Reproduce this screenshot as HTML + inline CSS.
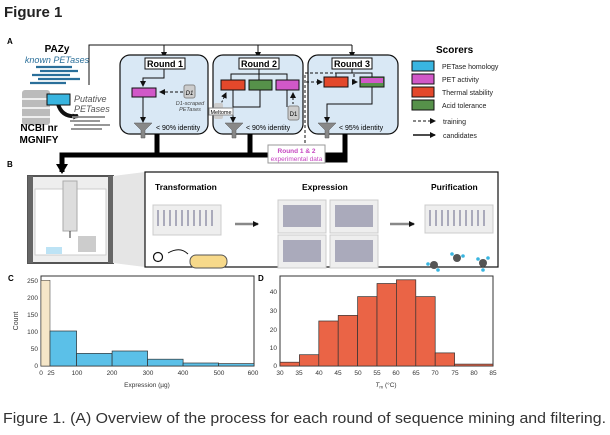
<!DOCTYPE html>
<html><head><meta charset="utf-8"><style>
body{margin:0;background:#fff}
svg{display:block;font-family:"Liberation Sans",sans-serif}
</style></head><body>
<svg width="610" height="435" viewBox="0 0 610 435" xmlns="http://www.w3.org/2000/svg">
<defs>
<marker id="ah" markerWidth="6" markerHeight="6" refX="5" refY="3" orient="auto" markerUnits="userSpaceOnUse"><path d="M0,0L6,3L0,6z" fill="#111"/></marker>
<marker id="ahb" markerWidth="14" markerHeight="12" refX="8" refY="6" orient="auto" markerUnits="userSpaceOnUse"><path d="M0,0L10,6L0,12z" fill="#000"/></marker>
</defs>
<text x="4" y="17" font-size="15" font-weight="bold" fill="#222">Figure 1</text>
<text x="7" y="44" font-size="8" font-weight="bold">A</text>
<!-- left source -->
<text x="57" y="52" font-size="10" font-weight="bold" text-anchor="middle">PAZy</text>
<text x="57" y="63" font-size="9" font-style="italic" fill="#2a6f9a" text-anchor="middle">known PETases</text>
<g stroke="#2a6f9a" stroke-width="2.2">
<line x1="36" y1="67" x2="72" y2="67"/><line x1="40" y1="71" x2="78" y2="71"/><line x1="32" y1="75" x2="70" y2="75"/><line x1="38" y1="79" x2="80" y2="79"/><line x1="30" y1="83" x2="66" y2="83"/></g>
<g fill="#bbb"><rect x="22" y="90" width="28" height="35" rx="3"/></g>
<g stroke="#fff" stroke-width="1.5"><line x1="22" y1="99" x2="50" y2="99"/><line x1="22" y1="108" x2="50" y2="108"/><line x1="22" y1="117" x2="50" y2="117"/></g>
<path d="M58 104 Q62 118 78 116" stroke="#111" stroke-width="4" fill="none" marker-end="url(#ah)"/>
<rect x="47" y="94" width="23" height="11" fill="#39b5e0" stroke="#111"/>
<text x="74" y="102" font-size="9" font-style="italic" fill="#555">Putative</text>
<text x="74" y="112" font-size="9" font-style="italic" fill="#555">PETases</text>
<g stroke="#888" stroke-width="1.8"><line x1="72" y1="117" x2="105" y2="117"/><line x1="70" y1="121" x2="100" y2="121"/><line x1="74" y1="125" x2="110" y2="125"/><line x1="71" y1="129" x2="102" y2="129"/></g>
<text x="39" y="131" font-size="10" font-weight="bold" text-anchor="middle">NCBI nr</text>
<text x="39" y="143" font-size="10" font-weight="bold" text-anchor="middle">MGNIFY</text>
<!-- top line -->
<path d="M89 85 V45 H352" stroke="#111" fill="none"/>
<line x1="164" y1="45" x2="164" y2="57" stroke="#111" marker-end="url(#ah)"/>
<line x1="258" y1="45" x2="258" y2="57" stroke="#111" marker-end="url(#ah)"/>
<line x1="352" y1="45" x2="352" y2="57" stroke="#111" marker-end="url(#ah)"/>
<!-- round boxes -->
<g fill="#d9e8f5" stroke="#111" stroke-width="1.2">
<rect x="120" y="55" width="88" height="79" rx="10"/>
<rect x="213" y="55" width="90" height="79" rx="10"/>
<rect x="308" y="55" width="90" height="79" rx="10"/></g>
<g fill="#fff" stroke="#111"><rect x="145" y="58" width="40" height="11"/><rect x="239" y="58" width="40" height="11"/><rect x="332" y="58" width="40" height="11"/></g>
<g font-size="9" font-weight="bold" text-anchor="middle"><text x="165" y="67">Round 1</text><text x="259" y="67">Round 2</text><text x="352" y="67">Round 3</text></g>
<!-- round1 -->
<path d="M164 69 V78 H143 V86" stroke="#111" fill="none" marker-end="url(#ah)"/>
<rect x="132" y="88" width="24" height="9" fill="#d158c8" stroke="#111"/>
<line x1="143" y1="97" x2="143" y2="122" stroke="#111" marker-end="url(#ah)"/>
<line x1="183" y1="92" x2="160" y2="92" stroke="#111" stroke-dasharray="3,2" marker-end="url(#ah)"/>
<rect x="184" y="85" width="11" height="13" rx="2" fill="#ccc" stroke="#888"/>
<text x="189.5" y="95" font-size="6" text-anchor="middle" font-style="italic">D1</text>
<text x="190" y="105" font-size="5.5" text-anchor="middle" font-style="italic" fill="#444">D1-scraped</text>
<text x="190" y="111" font-size="5.5" text-anchor="middle" font-style="italic" fill="#444">PETases</text>
<path d="M134 123 H152 L145 130 V138 H141 V130 Z" fill="#888" stroke="#555" stroke-width="0.5"/>
<text x="156" y="130" font-size="7">&lt; 90% identity</text>
<!-- round2 -->
<path d="M259 69 V74 M231 80 V74 H287 V80 M259 74 V80" stroke="#111" fill="none"/>
<rect x="221" y="80" width="24" height="10" fill="#e3482b" stroke="#111"/>
<rect x="249" y="80" width="23" height="10" fill="#56914a" stroke="#111"/>
<rect x="276" y="80" width="23" height="10" fill="#d158c8" stroke="#111"/>
<path d="M233 90 V122 M260 90 V107 H233 M287 90 V107" stroke="#111" fill="none"/>
<line x1="233" y1="112" x2="233" y2="122" stroke="#111" marker-end="url(#ah)"/>
<line x1="220" y1="106" x2="226" y2="93" stroke="#111" stroke-dasharray="2,2" marker-end="url(#ah)"/>
<line x1="293" y1="104" x2="293" y2="93" stroke="#111" stroke-dasharray="2,2" marker-end="url(#ah)"/>
<rect x="288" y="106" width="11" height="14" rx="2" fill="#ccc" stroke="#888"/>
<text x="293.5" y="116" font-size="6" text-anchor="middle">D1</text>
<rect x="214" y="103" width="9" height="16" rx="2" fill="#ccc"/>
<rect x="209" y="108" width="24" height="7" fill="#fff" stroke="#888"/>
<text x="221" y="114" font-size="5.5" text-anchor="middle">Meltome</text>
<path d="M225 123 H243 L236 130 V138 H232 V130 Z" fill="#888" stroke="#555" stroke-width="0.5"/>
<text x="246" y="130" font-size="7">&lt; 90% identity</text>
<!-- round3 -->
<path d="M352 69 V73 M336 77 V73 H372 V77" stroke="#111" fill="none"/>
<rect x="324" y="77" width="24" height="10" fill="#e3482b" stroke="#111"/>
<rect x="360" y="77" width="24" height="10" fill="#56914a" stroke="#111"/>
<rect x="361" y="78" width="22" height="5" fill="#d158c8"/>
<path d="M305 148 V73 H354 V82 H357" stroke="#111" fill="none" stroke-dasharray="3,2" marker-end="url(#ah)"/>
<line x1="306" y1="82" x2="322" y2="82" stroke="#111" stroke-dasharray="3,2" marker-end="url(#ah)"/>
<path d="M372 87 V104 H327 V122" stroke="#111" fill="none" marker-end="url(#ah)"/>
<path d="M318 123 H336 L329 130 V138 H325 V130 Z" fill="#888" stroke="#555" stroke-width="0.5"/>
<text x="339" y="130" font-size="7">&lt; 95% identity</text>
<!-- thick connectors -->
<g stroke="#000" stroke-width="5" fill="none">
<path d="M157 134 V155 M250 134 V155 M345 134 V160 H325"/>
<path d="M345 155 H62 V172" marker-end="url(#ahb)"/></g>
<rect x="268" y="145" width="57" height="18" fill="#fff" stroke="#999"/>
<text x="296.5" y="153" font-size="6.5" fill="#c545c0" text-anchor="middle" font-weight="bold">Round 1 &amp; 2</text>
<text x="296.5" y="161" font-size="6.5" fill="#c545c0" text-anchor="middle">experimental data</text>
<!-- legend -->
<text x="436" y="53" font-size="10" font-weight="bold">Scorers</text>
<rect x="412" y="61" width="22" height="10" fill="#39b5e0" stroke="#111"/>
<rect x="412" y="74" width="22" height="10" fill="#d158c8" stroke="#111"/>
<rect x="412" y="87" width="22" height="10" fill="#e3482b" stroke="#111"/>
<rect x="412" y="100" width="22" height="10" fill="#56914a" stroke="#111"/>
<g font-size="7" fill="#222"><text x="442" y="69">PETase homology</text><text x="442" y="82">PET activity</text><text x="442" y="95">Thermal stability</text><text x="442" y="108">Acid tolerance</text><text x="443" y="124">training</text><text x="443" y="138">candidates</text></g>
<line x1="413" y1="121" x2="435" y2="121" stroke="#111" stroke-dasharray="3,2" marker-end="url(#ah)"/>
<line x1="413" y1="135" x2="435" y2="135" stroke="#111" stroke-width="1.5" marker-end="url(#ah)"/>
<!-- B -->
<text x="7" y="167" font-size="8" font-weight="bold">B</text>
<rect x="28" y="176" width="85" height="87" fill="#eee" stroke="#555" stroke-width="2"/>
<rect x="28" y="176" width="5" height="87" fill="#666"/><rect x="108" y="176" width="5" height="87" fill="#666"/>
<rect x="35" y="189" width="71" height="66" fill="#fff" stroke="#ccc"/>
<rect x="63" y="181" width="14" height="50" fill="#ddd" stroke="#aaa"/>
<line x1="70" y1="231" x2="70" y2="238" stroke="#333"/>
<rect x="46" y="247" width="16" height="7" fill="#bde3f5"/>
<rect x="78" y="236" width="18" height="16" fill="#ccc"/>
<polygon points="113,176 145,172 145,267 113,263" fill="#e5e5e5"/>
<rect x="145" y="172" width="353" height="95" fill="#fff" stroke="#111" stroke-width="1.2"/>
<g font-size="8.5" font-weight="bold"><text x="155" y="190">Transformation</text><text x="302" y="190">Expression</text><text x="431" y="190">Purification</text></g>
<g fill="#eee" stroke="#ccc"><rect x="153" y="205" width="68" height="30"/><rect x="278" y="200" width="48" height="33"/><rect x="330" y="200" width="48" height="33"/><rect x="278" y="235" width="48" height="33"/><rect x="330" y="235" width="48" height="33"/><rect x="425" y="205" width="68" height="28"/></g>
<g stroke="#aab" stroke-width="2"><path d="M158 210 V226 M164 210 V226 M170 210 V226 M176 210 V226 M182 210 V226 M188 210 V226 M194 210 V226 M200 210 V226 M206 210 V226 M212 210 V226"/><path d="M430 210 V226 M436 210 V226 M442 210 V226 M448 210 V226 M454 210 V226 M460 210 V226 M466 210 V226 M472 210 V226 M478 210 V226 M484 210 V226"/></g>
<g fill="#aab"><rect x="283" y="205" width="38" height="22"/><rect x="335" y="205" width="38" height="22"/><rect x="283" y="240" width="38" height="22"/><rect x="335" y="240" width="38" height="22"/></g>
<g stroke="#888" stroke-width="2.5"><line x1="235" y1="224" x2="258" y2="224" marker-end="url(#ah)"/><line x1="390" y1="224" x2="414" y2="224" marker-end="url(#ah)"/></g>
<circle cx="158" cy="257" r="4.5" fill="none" stroke="#111" stroke-width="1.2"/>
<path d="M168 253 Q180 246 188 254" stroke="#111" fill="none"/>
<rect x="190" y="255" width="37" height="13" rx="6" fill="#f7d98a" stroke="#555"/>
<g fill="#555"><circle cx="434" cy="265" r="4"/><circle cx="457" cy="258" r="4"/><circle cx="483" cy="263" r="4"/></g>
<g fill="#39b5e0"><circle cx="428" cy="264" r="1.8"/><circle cx="438" cy="270" r="1.8"/><circle cx="452" cy="254" r="1.8"/><circle cx="463" cy="256" r="1.8"/><circle cx="478" cy="259" r="1.8"/><circle cx="488" cy="258" r="1.8"/><circle cx="483" cy="270" r="1.8"/></g>
<!-- C -->
<text x="8" y="281" font-size="8" font-weight="bold">C</text>
<rect x="41" y="276" width="213" height="90" fill="#fff" stroke="#333"/>
<rect x="41" y="280.3" width="9" height="85.7" fill="#f5e6c8" stroke="#333" stroke-width="0.5"/>
<g fill="#5bc0e8" stroke="#333" stroke-width="0.7">
<rect x="50" y="331" width="26.6" height="35"/><rect x="76.6" y="353.4" width="35.5" height="12.6"/><rect x="112.1" y="351" width="35.5" height="15"/><rect x="147.6" y="359.2" width="35.5" height="6.8"/><rect x="183.1" y="363" width="35.5" height="3"/><rect x="218.6" y="363.6" width="35.4" height="2.4"/></g>
<g font-size="6.5" fill="#333" text-anchor="end"><text x="38" y="283">250</text><text x="38" y="300">200</text><text x="38" y="317">150</text><text x="38" y="334">100</text><text x="38" y="351">50</text><text x="38" y="368">0</text></g>
<g font-size="6.5" fill="#333" text-anchor="middle"><text x="41" y="375">0</text><text x="51" y="375">25</text><text x="77" y="375">100</text><text x="112" y="375">200</text><text x="148" y="375">300</text><text x="183" y="375">400</text><text x="219" y="375">500</text><text x="253" y="375">600</text><text x="147" y="387">Expression (µg)</text></g>
<text x="18" y="321" font-size="7" fill="#333" text-anchor="middle" transform="rotate(-90 18 321)">Count</text>
<!-- D -->
<text x="258" y="281" font-size="8" font-weight="bold">D</text>
<rect x="280" y="276" width="213" height="90" fill="#fff" stroke="#333"/>
<g fill="#ea6446" stroke="#333" stroke-width="0.7">
<rect x="280" y="362.2" width="19.4" height="3.8"/><rect x="299.4" y="354.7" width="19.4" height="11.3"/><rect x="318.8" y="321" width="19.4" height="45"/><rect x="338.2" y="315.4" width="19.4" height="50.6"/><rect x="357.6" y="296.6" width="19.4" height="69.4"/><rect x="377" y="283.5" width="19.4" height="82.5"/><rect x="396.4" y="279.8" width="19.4" height="86.2"/><rect x="415.8" y="296.6" width="19.4" height="69.4"/><rect x="435.2" y="352.9" width="19.4" height="13.1"/><rect x="454.6" y="364.1" width="38.4" height="1.9"/></g>
<g font-size="6.5" fill="#333" text-anchor="end"><text x="277" y="294">40</text><text x="277" y="313">30</text><text x="277" y="332">20</text><text x="277" y="350">10</text><text x="277" y="368">0</text></g>
<g font-size="6.5" fill="#333" text-anchor="middle"><text x="280" y="375">30</text><text x="299" y="375">35</text><text x="319" y="375">40</text><text x="338" y="375">45</text><text x="358" y="375">50</text><text x="377" y="375">55</text><text x="396" y="375">60</text><text x="416" y="375">65</text><text x="435" y="375">70</text><text x="455" y="375">75</text><text x="474" y="375">80</text><text x="493" y="375">85</text><text x="386" y="387"><tspan font-style="italic">T</tspan><tspan font-size="4.5" dy="1.5">m</tspan><tspan dy="-1.5"> (°C)</tspan></text></g>
<text x="3" y="423" font-size="14.5" fill="#333" textLength="603" lengthAdjust="spacingAndGlyphs">Figure 1. (A) Overview of the process for each round of sequence mining and filtering.</text>
</svg>
</body></html>
